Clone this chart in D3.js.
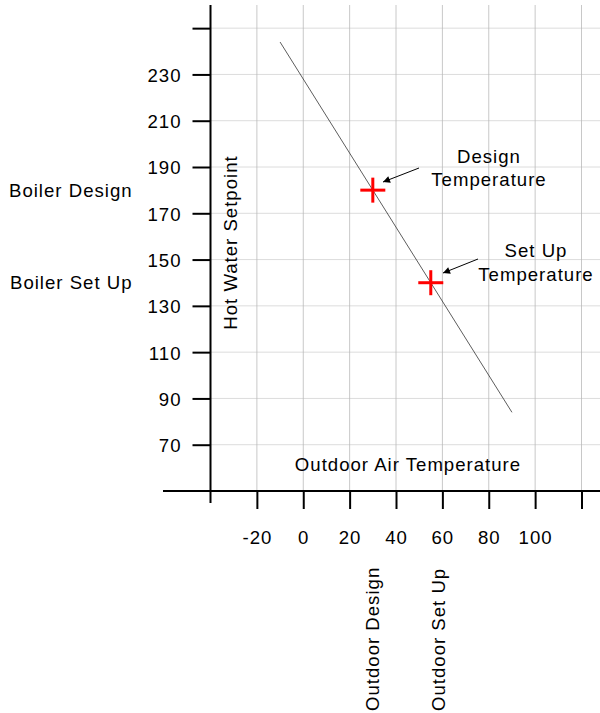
<!DOCTYPE html>
<html><head><meta charset="utf-8">
<script src="https://cdn.jsdelivr.net/npm/d3@7"></script>
<style>body{margin:0;background:#fff}svg{display:block}text{font-family:"Liberation Sans",Arial,sans-serif;fill:#000;letter-spacing:1px}</style>
</head><body><svg id="c" width="600" height="713"></svg>
<script>
const xTicks = [-20, 0, 20, 40, 60, 80, 100, 120];
const xTickLabels = ["-20", "0", "20", "40", "60", "80", "100", ""];
const yTicks = [70, 90, 110, 130, 150, 170, 190, 210, 230, 250];
const yTickLabels = ["70", "90", "110", "130", "150", "170", "190", "210", "230", ""];
const lineX = [-10, 90];
const lineY = [244, 84];
const markerNames = ["Design", "Set Up"];
const markerX = [30, 55];
const markerY = [180, 140];
const calloutLines = [["Design", "Temperature"], ["Set Up", "Temperature"]];
const sideLabels = ["Boiler Design", "Boiler Set Up"];
const bottomLabels = ["Outdoor Design", "Outdoor Set Up"];

const FS = 18.6;
const svg = d3.select("#c");
const x = d3.scaleLinear().domain([-40, 120]).range([210.5, 581.5]);
const y = d3.scaleLinear().domain([50, 260]).range([491, 5]);

svg.append("defs").append("marker").attr("id","ah").attr("viewBox","0 0 10 10")
  .attr("refX",10).attr("refY",5).attr("markerWidth",11).attr("markerHeight",7)
  .attr("markerUnits","userSpaceOnUse").attr("orient","auto")
  .append("path").attr("d","M0,0L10,5L0,10z").attr("fill","#000");

// grid
svg.append("g").selectAll("line").data(xTicks).join("line")
  .attr("x1", d=>x(d)).attr("x2", d=>x(d)).attr("y1", y(260)).attr("y2", y(50))
  .attr("stroke","#c8c8c8").attr("stroke-width",1);
svg.append("g").selectAll("line").data(yTicks).join("line")
  .attr("x1", x(-40)).attr("x2", 600).attr("y1", d=>y(d)).attr("y2", d=>y(d))
  .attr("stroke","#b8b8b8").attr("stroke-width",1).attr("stroke-dasharray","1,1");

// axes
const yAxis = d3.axisLeft(y).tickValues(yTicks).tickSize(18).tickPadding(11)
  .tickFormat((d,i)=>yTickLabels[i]);
const gy = svg.append("g").attr("transform",`translate(${x(-40)},0)`).call(yAxis);
gy.select(".domain").remove();
gy.selectAll(".tick line").attr("stroke","#000").attr("stroke-width",2);
gy.selectAll(".tick text").attr("font-size",FS).attr("dy","0.37em")
  .attr("font-family","Liberation Sans, Arial, sans-serif").attr("fill","#000");

const xAxis = d3.axisBottom(x).tickValues(xTicks).tickSize(18).tickPadding(21.5)
  .tickFormat((d,i)=>xTickLabels[i]);
const gx = svg.append("g").attr("transform",`translate(0,${y(50)})`).call(xAxis);
gx.select(".domain").remove();
gx.selectAll(".tick line").attr("stroke","#000").attr("stroke-width",2);
gx.selectAll(".tick text").attr("font-size",FS)
  .attr("font-family","Liberation Sans, Arial, sans-serif").attr("fill","#000");

svg.append("line").attr("x1", x(-40)).attr("x2", x(-40)).attr("y1", y(260)).attr("y2", y(50)+12)
  .attr("stroke","#000").attr("stroke-width",2);
svg.append("line").attr("x1", 163).attr("x2", 600).attr("y1", y(50)).attr("y2", y(50))
  .attr("stroke","#000").attr("stroke-width",2);

// reset line
svg.append("path").datum(lineX.map((v,i)=>[v,lineY[i]]))
  .attr("d", d3.line().x(d=>x(d[0])).y(d=>y(d[1])))
  .attr("stroke","#333").attr("stroke-width",0.8).attr("fill","none");

// markers
const mk = svg.append("g").selectAll("g").data(markerX.map((v,i)=>({x:v,y:markerY[i]}))).join("g")
  .attr("transform", d=>`translate(${x(d.x)},${y(d.y)})`);
mk.append("line").attr("x1",-12.5).attr("x2",12.5).attr("stroke","#ff0000").attr("stroke-width",3);
mk.append("line").attr("y1",-12.5).attr("y2",12.5).attr("stroke","#ff0000").attr("stroke-width",3);

// callouts
const callout = [
  {tx: 489, ty: 162.7, ax1: 419, ay1: 168, ax2: 383, ay2: 182},
  {tx: 536, ty: 257.3, ax1: 478, ay1: 259, ax2: 443, ay2: 273}
];
callout.forEach((c,i)=>{
  const t = svg.append("text").attr("x", c.tx).attr("y", c.ty).attr("text-anchor","middle").attr("font-size",FS);
  calloutLines[i].forEach((s,j)=>t.append("tspan").attr("x",c.tx).attr("dy", j===0?0:23.7).text(s));
  svg.append("line").attr("x1",c.ax1).attr("y1",c.ay1).attr("x2",c.ax2).attr("y2",c.ay2)
    .attr("stroke","#000").attr("stroke-width",1).attr("marker-end","url(#ah)");
});

// side labels
const sidePos = [{x: 9, y: 196.7}, {x: 10, y: 289.3}];
sideLabels.forEach((s,i)=>{
  svg.append("text").attr("x", sidePos[i].x).attr("y", sidePos[i].y).attr("font-size",FS).text(s);
});
// bottom labels
const bottomPos = [378.5, 445];
bottomLabels.forEach((s,i)=>{
  svg.append("text").attr("transform",`translate(${bottomPos[i]},711) rotate(-90)`).attr("font-size",FS).text(s);
});

// axis titles
svg.append("text").attr("x", 408).attr("y", 471).attr("text-anchor","middle").attr("font-size",FS).text("Outdoor Air Temperature");
svg.append("text").attr("transform",`translate(236.7,242.5) rotate(-90)`).attr("text-anchor","middle").attr("font-size",FS).text("Hot Water Setpoint");
</script></body></html>
